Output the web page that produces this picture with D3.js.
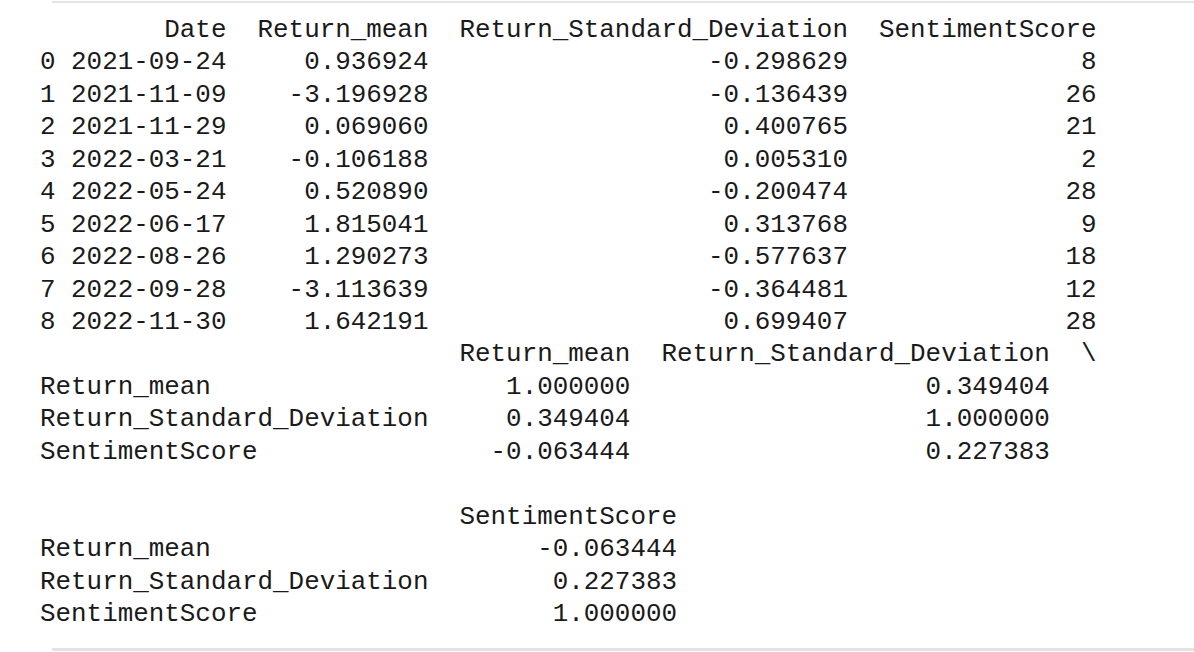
<!DOCTYPE html>
<html><head><meta charset="utf-8">
<script src="https://cdn.jsdelivr.net/npm/d3@7"></script>
<style>body{margin:0;background:#fff}</style>
</head><body><div id="out"></div>
<script>
// data
const dates = ["2021-09-24","2021-11-09","2021-11-29","2022-03-21","2022-05-24","2022-06-17","2022-08-26","2022-09-28","2022-11-30"]
const returnMean = [0.936924,-3.196928,0.069060,-0.106188,0.520890,1.815041,1.290273,-3.113639,1.642191]
const returnStd = [-0.298629,-0.136439,0.400765,0.005310,-0.200474,0.313768,-0.577637,-0.364481,0.699407]
const sentiment = [8,26,21,2,28,9,18,12,28]
const corrNames = ["Return_mean","Return_Standard_Deviation","SentimentScore"]
const corrMean = [1.000000,0.349404,-0.063444]
const corrStd = [0.349404,1.000000,0.227383]
const corrSent = [-0.063444,0.227383,1.000000]

const f6 = d3.format(".6f")
const pl = (s, n) => String(s).padStart(n)
const pr = (s, n) => String(s).padEnd(n)

var lines = []
lines.push(pl("", 1) + pl("Date", 11) + pl("Return_mean", 13) + pl("Return_Standard_Deviation", 27) + pl("SentimentScore", 16))
dates.forEach((d, i) => {
    lines.push(String(i) + pl(d, 11) + pl(f6(returnMean[i]).replace("−","-"), 13) + pl(f6(returnStd[i]).replace("−","-"), 27) + pl(sentiment[i], 16))
})
lines.push(pr("", 25) + pl("Return_mean", 13) + pl("Return_Standard_Deviation", 27) + "  \\")
corrNames.forEach((n, i) => {
    lines.push(pr(n, 25) + pl(f6(corrMean[i]).replace("−","-"), 13) + pl(f6(corrStd[i]).replace("−","-"), 27))
})
lines.push("")
lines.push(pr("", 25) + pl("SentimentScore", 16))
corrNames.forEach((n, i) => {
    lines.push(pr(n, 25) + pl(f6(corrSent[i]).replace("−","-"), 16))
})

const W = 1194, H = 652
var svg = d3.select("#out").append("svg").attr("width", W).attr("height", H)

svg.append("rect").attr("x", 52).attr("y", 1).attr("width", W - 52).attr("height", 2).attr("fill", "#e3e3e3")
svg.append("rect").attr("x", 52).attr("y", 648).attr("width", W - 52).attr("height", 3).attr("fill", "#e3e3e3")

const y = d3.scaleLinear().domain([0, 18]).range([37, 621])

svg.selectAll("text.l")
    .data(lines)
    .enter()
    .append("text")
    .attr("class", "l")
    .attr("x", 40)
    .attr("y", (d, i) => y(i))
    .attr("xml:space", "preserve")
    .style("white-space", "pre")
    .style("font-family", "'Liberation Mono', monospace")
    .style("font-size", "25.9px")
    .attr("fill", "#1a1a1a")
    .text(d => d)
</script></body></html>
